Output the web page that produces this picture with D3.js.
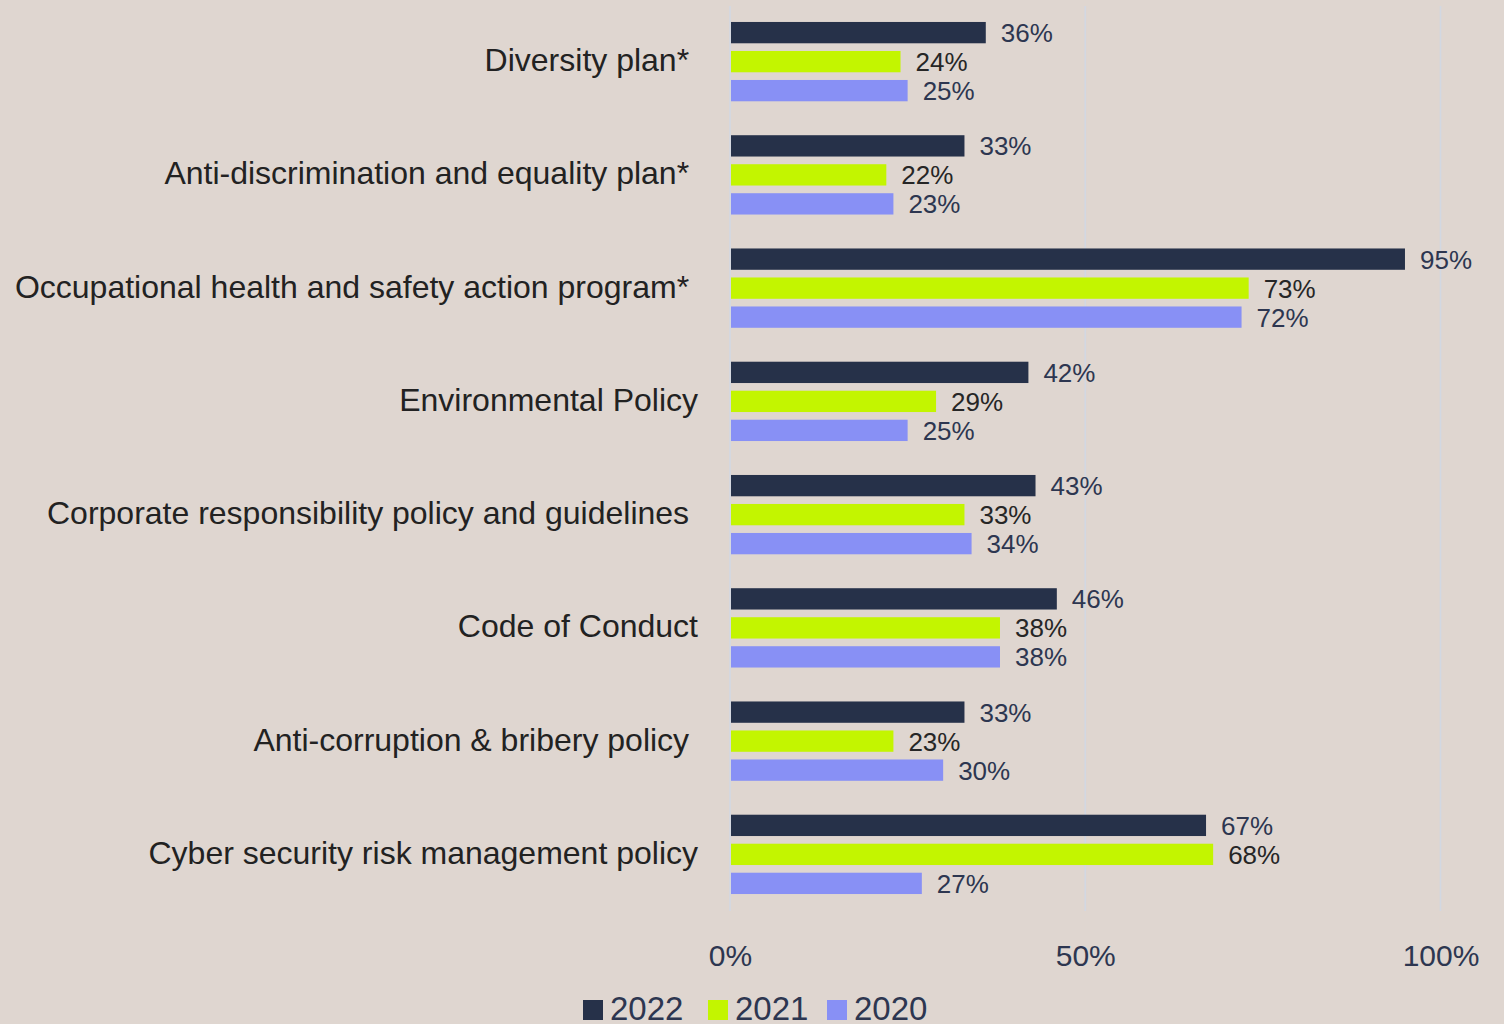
<!DOCTYPE html>
<html>
<head>
<meta charset="utf-8">
<script src="https://cdn.jsdelivr.net/npm/d3@7"></script>
<style>
  html, body { margin: 0; padding: 0; background: #dfd6d0; }
  svg { display: block; }
  text { font-family: "Liberation Sans", Arial, sans-serif; }
</style>
</head>
<body>
<svg id="chart" width="1504" height="1024"></svg>
<script>
// Policies and programmes in place, share of respondents by year
const categories = [
  "Diversity plan* ",
  "Anti-discrimination and equality plan* ",
  "Occupational health and safety action program* ",
  "Environmental Policy",
  "Corporate responsibility policy and guidelines ",
  "Code of Conduct",
  "Anti-corruption & bribery policy ",
  "Cyber security risk management policy"
];
const seriesNames = ["2022", "2021", "2020"];
const values2022 = [36, 33, 95, 42, 43, 46, 33, 67];
const values2021 = [24, 22, 73, 29, 33, 38, 23, 68];
const values2020 = [25, 23, 72, 25, 34, 38, 30, 27];
const tickValues = [0, 50, 100];

const seriesValues = { "2022": values2022, "2021": values2021, "2020": values2020 };
const colors = { "2022": "#263149", "2021": "#c3f500", "2020": "#8890f5" };
const labelColors = { "2022": "#2d3650", "2021": "#262626", "2020": "#2d3650" };

const svg = d3.select("#chart");

const x = d3.scaleLinear().domain([0, 100]).range([730, 1440.5]);
const y = d3.scaleBand().domain(categories).range([5, 911]).paddingInner(0).paddingOuter(0);
const groupH = 87;
const yInner = d3.scaleBand().domain(seriesNames)
  .range([(y.bandwidth() - groupH) / 2, (y.bandwidth() + groupH) / 2])
  .paddingInner(0.265).paddingOuter(0.1325);

// vertical gridlines
svg.append("g").selectAll("line").data(tickValues).join("line")
  .attr("x1", d => x(d)).attr("x2", d => x(d))
  .attr("y1", 6).attr("y2", 911)
  .attr("stroke", "#d2d8e2").attr("stroke-width", 1.6);

// x axis tick labels
const xAxis = d3.axisBottom(x).tickValues(tickValues).tickSize(0).tickPadding(0)
  .tickFormat(d => d + "%");
const gx = svg.append("g").attr("transform", "translate(0,966)").call(xAxis);
gx.select(".domain").remove();
gx.selectAll("text")
  .attr("dy", 0).attr("y", 0)
  .attr("font-size", 30).attr("fill", "#2d3650")
  .attr("font-family", "'Liberation Sans', Arial, sans-serif");

// category labels
svg.append("g").selectAll("text").data(categories).join("text")
  .attr("x", 698)
  .attr("y", d => y(d) + y.bandwidth() / 2 + 9.5)
  .attr("text-anchor", "end")
  .attr("font-size", 32)
  .attr("fill", "#222222")
  .style("white-space", "pre")
  .text(d => d);

// bars and value labels
const rows = [];
categories.forEach((c, i) => {
  seriesNames.forEach(s => rows.push({ cat: c, series: s, value: seriesValues[s][i] }));
});

const g = svg.append("g");
g.selectAll("rect").data(rows).join("rect")
  .attr("x", x(0) + 1)
  .attr("y", d => y(d.cat) + yInner(d.series))
  .attr("width", d => x(d.value) - x(0) - 1)
  .attr("height", yInner.bandwidth())
  .attr("fill", d => colors[d.series]);

g.selectAll("text").data(rows).join("text")
  .attr("x", d => x(d.value) + 15)
  .attr("y", d => y(d.cat) + yInner(d.series) + yInner.bandwidth() / 2 + 9.5)
  .attr("font-size", 26)
  .attr("fill", d => labelColors[d.series])
  .text(d => d.value + "%");

// legend
const legendX = [583, 708, 827];
const legend = svg.append("g").selectAll("g").data(seriesNames).join("g")
  .attr("transform", (d, i) => `translate(${legendX[i]},1000)`);
legend.append("rect").attr("width", 20).attr("height", 20)
  .attr("fill", d => colors[d]);
legend.append("text").attr("x", 27).attr("y", 20)
  .attr("font-size", 33).attr("fill", "#2d3650")
  .text(d => d);
</script>
</body>
</html>
